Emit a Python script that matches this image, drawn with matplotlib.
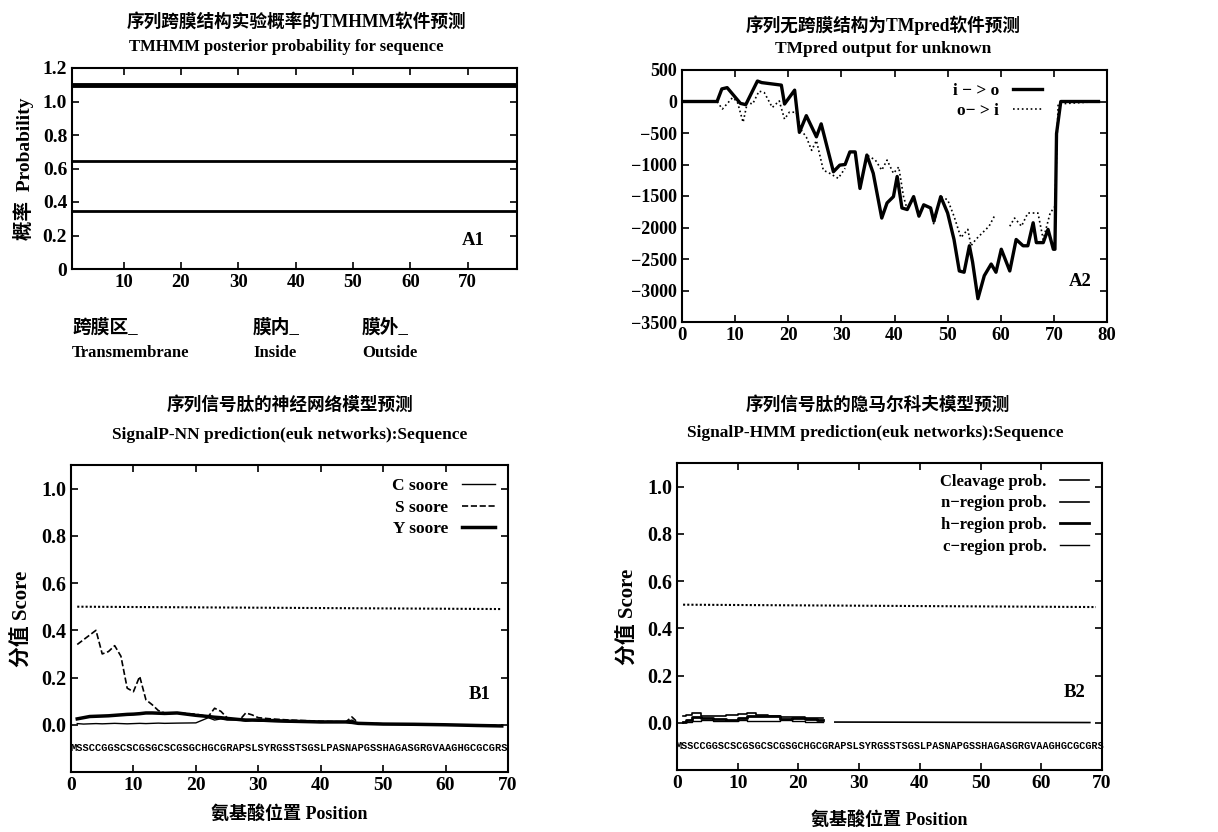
import matplotlib
matplotlib.use('Agg')
import matplotlib.pyplot as plt
import numpy as np

plt.rcParams['font.family'] = ['Liberation Serif', 'Noto Sans CJK SC', 'DejaVu Sans']
plt.rcParams['font.weight'] = 'bold'
plt.rcParams['axes.linewidth'] = 1.5

# ---- A1: TMHMM posterior probability ----
a1_levels = [1.10, 0.645, 0.345]
a1_widths = [3.5, 2.0, 2.0]
a1_xticks = [10, 20, 30, 40, 50, 60, 70]
a1_yticks = [0, 0.2, 0.4, 0.6, 0.8, 1.0, 1.2]
a1_ylabels = ['0', '0.2', '0.4', '0.6', '0.8', '1.0', '1.2']

# ---- A2: TMpred output ----
io_x = [0, 6.6, 7.5, 8.5, 11, 12, 14.2, 15, 18.7, 19.3, 21.2, 22.1, 23.4, 25.3, 26.2,
        28.5, 29.7, 30.7, 31.6, 32.6, 33.5, 34.8, 36, 37.6, 38.6, 39.8, 40.5, 41.4,
        42.4, 43.6, 44.6, 45.5, 46.8, 47.4, 48.7, 50, 51.2, 52.2, 53.1, 54.1, 54.7,
        55.7, 56.9, 58.2, 59.1, 60.1, 61.7, 62.9, 64.2, 65.1, 66.1, 66.7, 68, 68.9,
        69.9, 70.2, 70.5, 71.3, 78.4]
io_y = [0, 0, 200, 220, -30, -50, 325, 300, 260, -40, 180, -490, -225, -560, -355,
        -1115, -1010, -1000, -800, -800, -1380, -850, -1140, -1850, -1610, -1510, -1190,
        -1690, -1715, -1510, -1820, -1640, -1690, -1900, -1510, -1770, -2190, -2690,
        -2710, -2290, -2550, -3130, -2765, -2580, -2710, -2345, -2690, -2190, -2290,
        -2290, -1925, -2240, -2240, -2030, -2345, -2345, -510, 0, 0]
oi_x = [0, 6.6, 7.6, 9.5, 10.4, 11.5, 12.3, 13.3, 14.5, 15.5, 17, 18.3, 19.3, 20.2,
        21.5, 22.5, 23.4, 24.4, 25.3, 26.6, 27.8, 29.4, 30.7, 31.5, 33.5, 34.8, 36.4,
        37.6, 38.6, 39.8, 40.8, 41.7, 42.4, 43.6, 44.6, 45.5, 46.8, 47.4, 48.7, 50,
        51.2, 52.5, 53.8, 54.4, 55.3, 56.6, 57.8, 58.8, 59.5, 61.7, 62.6, 63.9, 65.1,
        67, 68, 69.3, 70.2, 70.8, 78.4]
oi_y = [0, 0, -120, 60, 0, -330, -15, -40, 165, 140, -95, 10, -280, -170, -170,
        -460, -565, -775, -620, -1090, -1140, -1220, -1060, np.nan, -1380, -850, -930,
        -1090, -930, -1140, -1040, -1510, -1715, -1510, -1820, -1640, -1690, -1950,
        -1510, -1560, -1820, -2160, -2030, -2290, -2190, -2080, -1980, -1820, np.nan,
        -1980, -1850, -1980, -1770, -1770, -2190, -1770, -1665, -40, 0]
a2_yticks = [500, 0, -500, -1000, -1500, -2000, -2500, -3000, -3500]
a2_xticks = [0, 10, 20, 30, 40, 50, 60, 70, 80]

# ---- B1: SignalP-NN ----
b1_x = [1, 2, 3, 4, 5, 6, 7, 8, 9, 10, 11, 12, 13, 14, 15, 17, 20, 22, 23, 24, 25,
        27, 28, 29, 30, 32, 35, 40, 44, 45, 46, 50, 55, 60, 65, 69]
s_score = [0.34, 0.36, 0.38, 0.40, 0.30, 0.31, 0.335, 0.29, 0.155, 0.14, 0.205, 0.106,
           0.085, 0.06, 0.05, 0.05, 0.045, 0.035, 0.07, 0.057, 0.03, 0.02, 0.05, 0.042,
           0.03, 0.025, 0.02, 0.015, 0.012, 0.033, 0.008, 0.004, 0.002, 0.0, -0.002, -0.003]
y_score = [0.025, 0.03, 0.035, 0.036, 0.037, 0.038, 0.04, 0.042, 0.044, 0.045, 0.047,
           0.05, 0.05, 0.049, 0.048, 0.05, 0.04, 0.035, 0.032, 0.03, 0.027, 0.022, 0.02,
           0.02, 0.02, 0.018, 0.015, 0.012, 0.012, 0.01, 0.006, 0.003, 0.002, 0.0,
           -0.003, -0.005]
c_score = [0.005, 0.003, 0.004, 0.005, 0.004, 0.005, 0.006, 0.005, 0.004, 0.005, 0.006,
           0.005, 0.006, 0.007, 0.006, 0.007, 0.008, 0.03, 0.02, 0.025, 0.02, 0.02,
           0.015, 0.018, 0.015, 0.014, 0.012, 0.01, 0.012, 0.02, 0.005, 0.003, 0.002,
           0.0, -0.002, -0.004]
thr_x = [1, 69]
thr_y = [0.50, 0.49]
b_yticks = [0.0, 0.2, 0.4, 0.6, 0.8, 1.0]
b_xticks = [0, 10, 20, 30, 40, 50, 60, 70]
sequence = "MSSCCGGSCSCGSGCSCGSGCHGCGRAPSLSYRGSSTSGSLPASNAPGSSHAGASGRGVAAGHGCGCGRS"

# ---- B2: SignalP-HMM ----
b2_x = [1, 2, 3, 5, 7, 9, 11, 12, 14, 16, 18, 20, 22, 24]
n_region = [0.03, 0.035, 0.04, 0.03, 0.03, 0.032, 0.038, 0.04, 0.035, 0.03, 0.025, 0.025, 0.02, 0.02]
h_region = [0.005, 0.01, 0.025, 0.02, 0.015, 0.012, 0.02, 0.03, 0.03, 0.028, 0.015, 0.02, 0.018, 0.012]
c_region = [0.005, 0.005, 0.008, 0.01, 0.008, 0.008, 0.01, 0.008, 0.008, 0.006, 0.01, 0.008, 0.005, 0.005]
cleave_x = [26, 68]
cleave_y = [0.003, 0.001]

fig = plt.figure(figsize=(12.18, 8.32), dpi=100)
W, H = 1218, 832


def box(l, t, r, b):
    return [l / W, 1 - b / H, (r - l) / W, (b - t) / H]


def style(ax, xsize=13.5, ysize=14):
    ax.tick_params(direction='in', top=True, right=True, length=5, width=1.2)
    ax.tick_params(axis='x', labelsize=xsize)
    ax.tick_params(axis='y', labelsize=ysize)
    for lab in ax.get_xticklabels() + ax.get_yticklabels():
        lab.set_fontweight('bold')


def seq_row(ax, width_px):
    # monospace so each residue sits over its own position
    size = width_px / len(sequence) / 0.6 * 72 / 100
    ax.text(len(sequence) / 2, -0.1, sequence, fontsize=size, fontweight='bold',
            family='Liberation Mono', ha='center', va='center')


# A1
ax1 = fig.add_axes(box(72, 68, 517, 269))
for lev, lw in zip(a1_levels, a1_widths):
    ax1.axhline(lev, color='black', lw=lw)
ax1.set_xlim(1, 78.6)
ax1.set_ylim(0, 1.2)
ax1.set_xticks(a1_xticks)
ax1.set_yticks(a1_yticks)
ax1.set_yticklabels(a1_ylabels)
style(ax1, 13.5, 14)
ax1.text(71, 0.17, 'A1', fontsize=13.5, fontweight='bold', ha='center', va='center')
ax1.set_ylabel('概率  Probability', fontsize=14, fontweight='bold', labelpad=6)
fig.text(296 / W, 1 - 22 / H, '序列跨膜结构实验概率的TMHMM软件预测', ha='center', va='center',
         fontsize=12.7, fontweight='bold')
fig.text(286 / W, 1 - 47 / H, 'TMHMM posterior probability for sequence', ha='center',
         va='center', fontsize=12, fontweight='bold')
for xp, zh, en in [(72, '跨膜区_', 'Transmembrane'), (253, '膜内_', 'Inside'),
                   (362, '膜外_', 'Outside')]:
    fig.text(xp / W, 1 - 328 / H, zh, fontsize=13.5, fontweight='bold', va='center')
    fig.text(xp / W, 1 - 353 / H, en, fontsize=12, fontweight='bold', va='center')

# A2
ax2 = fig.add_axes(box(682, 70, 1107, 322))
ax2.plot(io_x, io_y, color='black', lw=2.4, label='i − > o')
ax2.plot(oi_x, oi_y, color='black', lw=1.2, ls=':', label='o− > i')
ax2.set_xlim(0, 80)
ax2.set_ylim(-3500, 500)
ax2.set_yticks(a2_yticks)
ax2.set_xticks(a2_xticks)
style(ax2, 13.5, 13)
ax2.text(75, -2850, 'A2', fontsize=13.5, fontweight='bold', ha='center', va='center')
ax2.legend(loc='upper right', frameon=False, markerfirst=False, fontsize=12.5,
           handlelength=1.7, borderaxespad=0, labelspacing=0.2,
           bbox_to_anchor=(0.864, 0.976))
fig.text(883 / W, 1 - 25 / H, '序列无跨膜结构为TMpred软件预测', ha='center', va='center',
         fontsize=12.7, fontweight='bold')
fig.text(883 / W, 1 - 49 / H, 'TMpred output for unknown', ha='center', va='center',
         fontsize=12.5, fontweight='bold')

# B1
ax3 = fig.add_axes(box(71, 465, 508, 772))
ax3.plot(thr_x, thr_y, color='black', lw=1.5, ls=(0, (1, 1)))
ax3.plot(b1_x, c_score, color='black', lw=1.0, label='C soore')
ax3.plot(b1_x, s_score, color='black', lw=1.2, ls='--', label='S soore')
ax3.plot(b1_x, y_score, color='black', lw=2.5, label='Y soore')
seq_row(ax3, 437)
ax3.set_xlim(0, 70)
ax3.set_ylim(-0.2, 1.1)
ax3.set_xticks(b_xticks)
ax3.set_yticks(b_yticks)
ax3.set_yticklabels(['%.1f' % v for v in b_yticks])
style(ax3, 14, 14.5)
ax3.text(65.5, 0.13, 'B1', fontsize=13.5, fontweight='bold', ha='center', va='center')
ax3.legend(loc='upper right', frameon=False, markerfirst=False, fontsize=12.5,
           handlelength=1.9, labelspacing=0.3, borderaxespad=0,
           bbox_to_anchor=(0.986, 0.980))
ax3.set_ylabel('分值 Score', fontsize=15, fontweight='bold', labelpad=6)
ax3.set_xlabel('氨基酸位置 Position', fontsize=13, fontweight='bold', labelpad=8)
fig.text(290 / W, 1 - 405 / H, '序列信号肽的神经网络模型预测', ha='center', va='center',
         fontsize=12.7, fontweight='bold')
fig.text(290 / W, 1 - 435 / H, 'SignalP-NN prediction(euk networks):Sequence',
         ha='center', va='center', fontsize=12.5, fontweight='bold')

# B2
ax4 = fig.add_axes(box(677, 463, 1102, 770))
ax4.plot(cleave_x, cleave_y, color='black', lw=1.2, label='Cleavage prob.')
ax4.plot(b2_x, n_region, color='black', lw=1.2, drawstyle='steps-mid',
         label='n−region prob.')
ax4.plot(b2_x, h_region, color='black', lw=2.0, drawstyle='steps-mid',
         label='h−region prob.')
ax4.plot(b2_x, c_region, color='black', lw=1.0, drawstyle='steps-mid',
         label='c−region prob.')
ax4.plot(thr_x, thr_y, color='black', lw=1.5, ls=(0, (1, 1)))
seq_row(ax4, 425)
ax4.set_xlim(0, 70)
ax4.set_ylim(-0.2, 1.1)
ax4.set_xticks(b_xticks)
ax4.set_yticks(b_yticks)
ax4.set_yticklabels(['%.1f' % v for v in b_yticks])
style(ax4, 14, 14.5)
ax4.text(65.5, 0.13, 'B2', fontsize=13.5, fontweight='bold', ha='center', va='center')
ax4.legend(loc='upper right', frameon=False, markerfirst=False, fontsize=12,
           handlelength=1.7, labelspacing=0.35, borderaxespad=0,
           bbox_to_anchor=(0.984, 0.987))
ax4.set_ylabel('分值 Score', fontsize=15, fontweight='bold', labelpad=6)
ax4.set_xlabel('氨基酸位置 Position', fontsize=13, fontweight='bold', labelpad=14)
fig.text(878 / W, 1 - 405 / H, '序列信号肽的隐马尔科夫模型预测', ha='center', va='center',
         fontsize=12.7, fontweight='bold')
fig.text(875 / W, 1 - 433 / H, 'SignalP-HMM prediction(euk networks):Sequence',
         ha='center', va='center', fontsize=12.5, fontweight='bold')

fig.savefig('out.png', dpi=100)
